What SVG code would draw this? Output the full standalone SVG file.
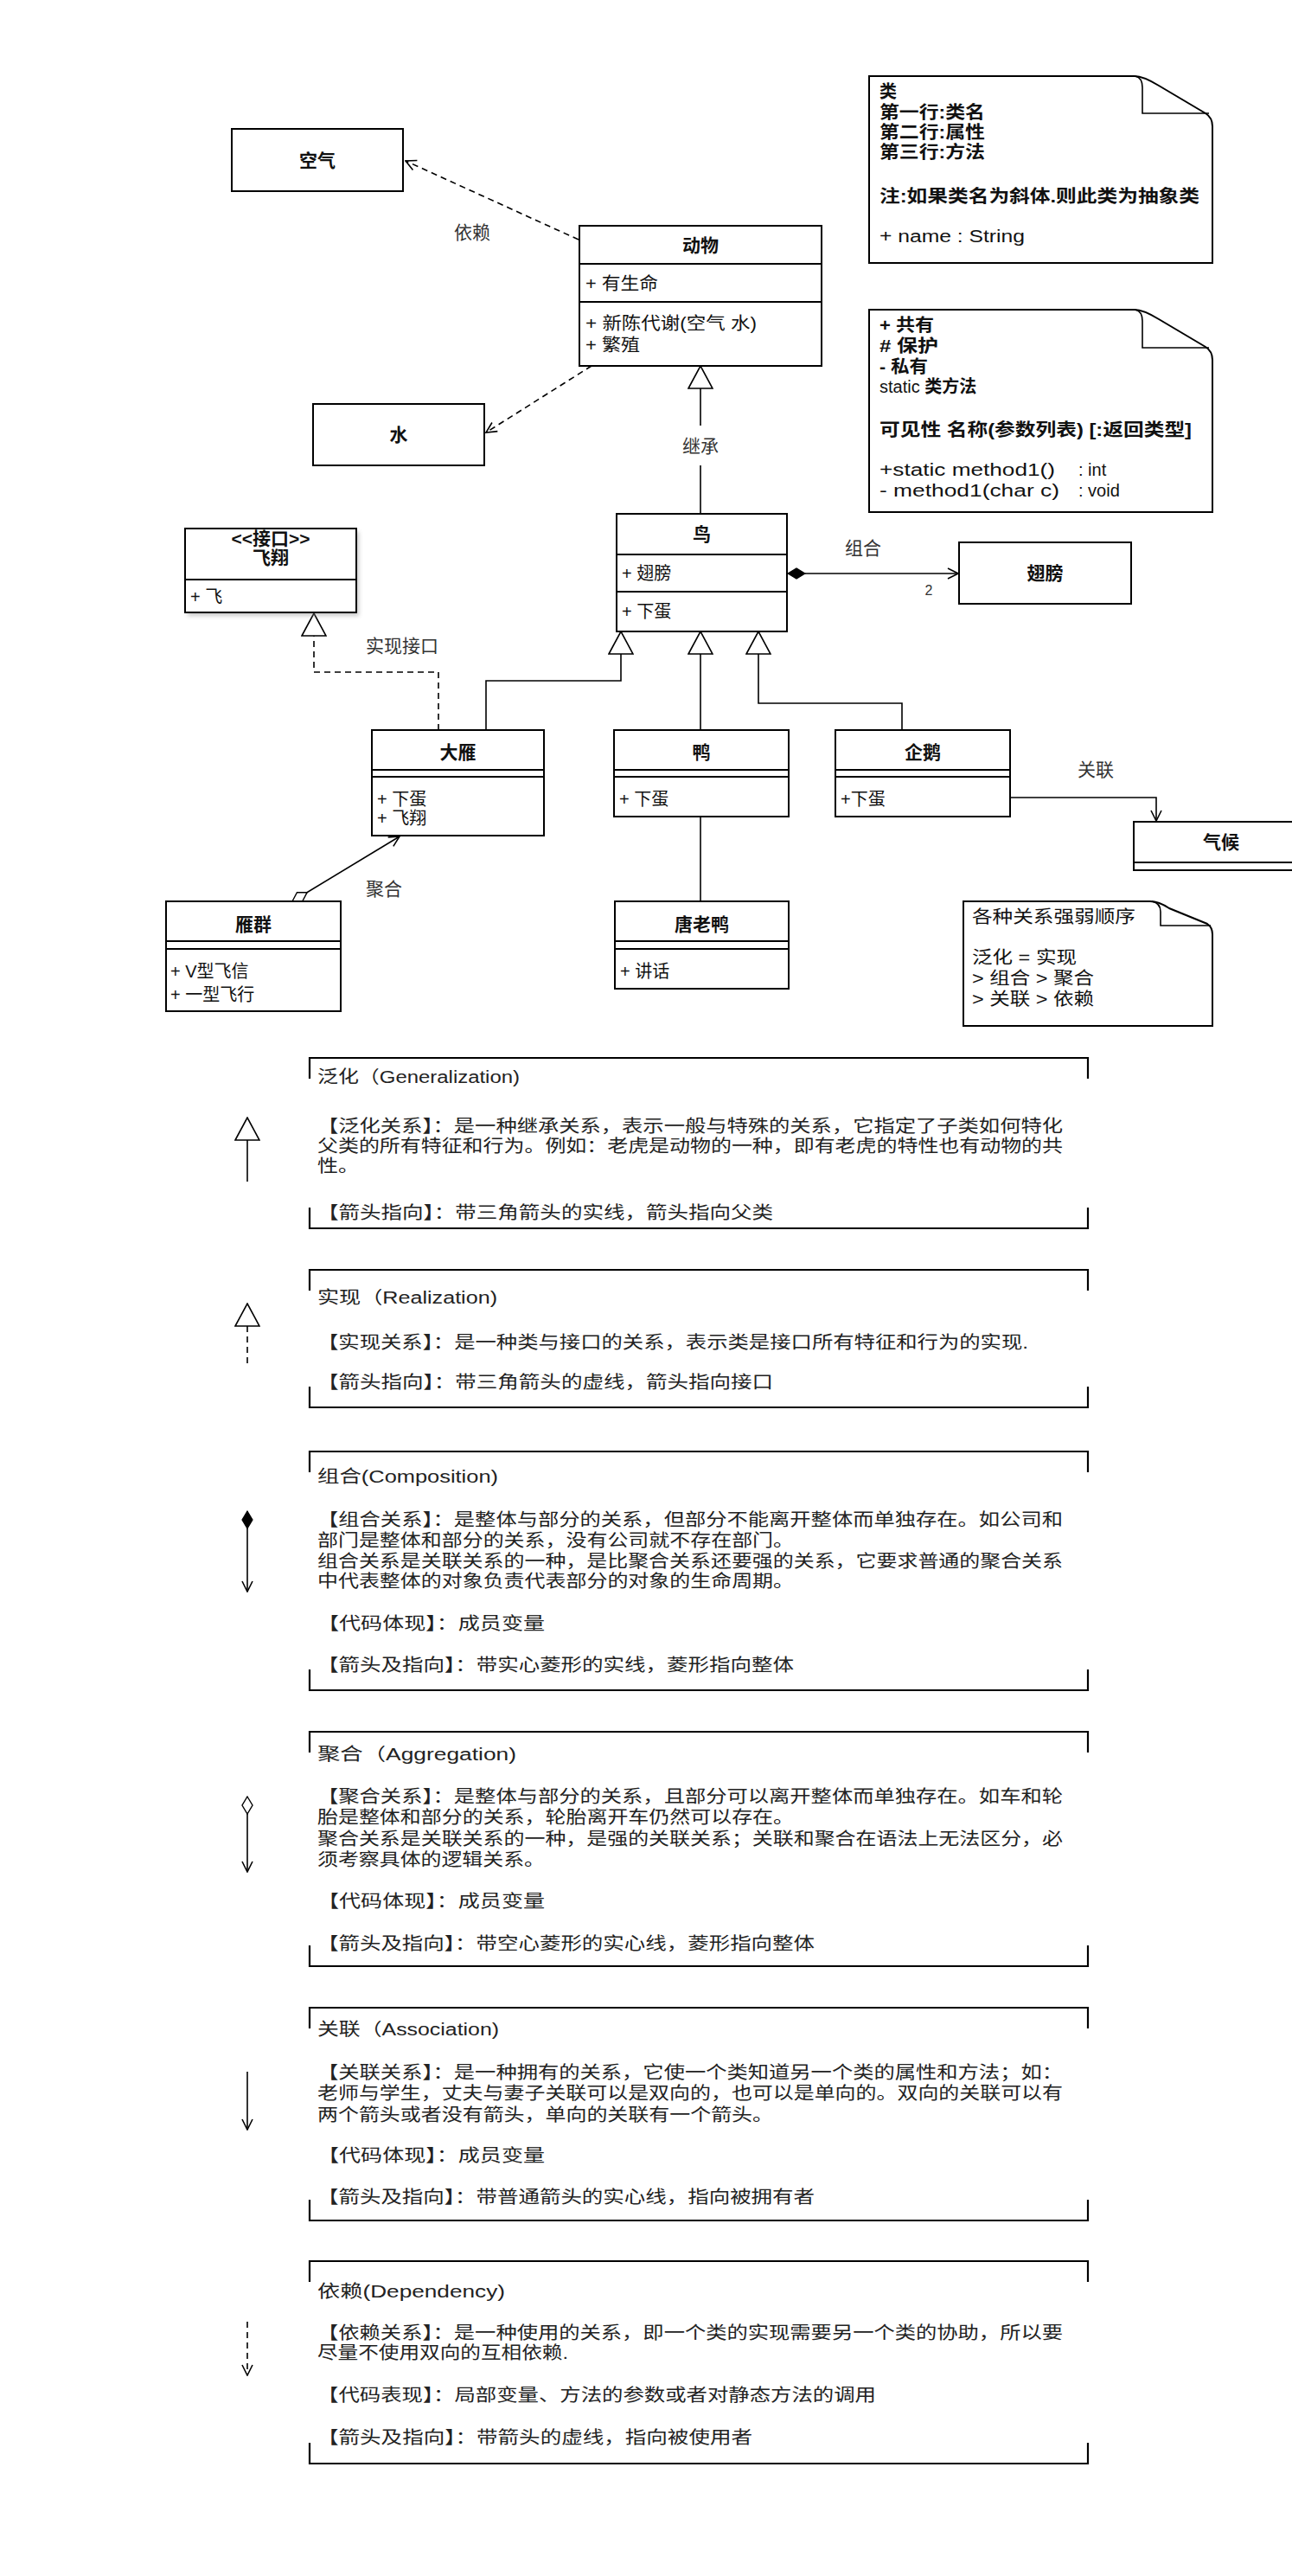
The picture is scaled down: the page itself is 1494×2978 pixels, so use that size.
<svg xmlns="http://www.w3.org/2000/svg" width="1494" height="2978" viewBox="0 0 1494 2978">
  <style>
    .bx { fill: #fff; stroke: #000; stroke-width: 2; }
    .dv { stroke: #000; stroke-width: 2; fill: none; }
    .ln { stroke: #000; stroke-width: 1.6; fill: none; }
    .ds { stroke-dasharray: 7 5; }
    .br { stroke: #000; stroke-width: 2.2; fill: none; }
    text { font-family: "Liberation Sans", "Noto Sans CJK SC", sans-serif; fill: #111; }
    .ti { font-size: 21px; font-weight: bold; text-anchor: middle; }
    .at { font-size: 20px; }
    .lb { font-size: 21px; text-anchor: middle; fill: #333; }
    .nt { font-size: 20px; }
    .nb { font-size: 20px; font-weight: bold; }
    .lg { font-size: 20px; fill: #222; }
  </style>
  <defs>
    <marker id="open" viewBox="0 0 14 14" refX="13" refY="7" markerWidth="14" markerHeight="14" markerUnits="userSpaceOnUse" orient="auto">
      <path d="M1,1 L13,7 L1,13" fill="none" stroke="#000" stroke-width="1.6"/>
    </marker>
    <marker id="tri" viewBox="0 0 28 30" refX="27" refY="15" markerWidth="28" markerHeight="30" markerUnits="userSpaceOnUse" orient="auto">
      <path d="M1,1 L27,15 L1,29 Z" fill="#fff" stroke="#000" stroke-width="1.6"/>
    </marker>
    <marker id="dmdF" viewBox="0 0 22 14" refX="1" refY="7" markerWidth="22" markerHeight="14" markerUnits="userSpaceOnUse" orient="auto">
      <path d="M1,7 L11,1 L21,7 L11,13 Z" fill="#000" stroke="#000" stroke-width="1.2"/>
    </marker>
    <marker id="dmdH" viewBox="0 0 22 14" refX="1" refY="7" markerWidth="22" markerHeight="14" markerUnits="userSpaceOnUse" orient="auto">
      <path d="M1,7 L11,1 L21,7 L11,13 Z" fill="#fff" stroke="#000" stroke-width="1.4"/>
    </marker>
    <filter id="soft" x="-10%" y="-10%" width="120%" height="130%">
      <feGaussianBlur stdDeviation="2.5"/>
    </filter>
  </defs>

  <rect width="1494" height="2978" fill="#fff"/>

  <!-- connectors -->
  <g id="connectors">
    <!-- dependencies of 动物 -->
    <path class="ln ds" d="M669,277 L469,186" marker-end="url(#open)"/>
    <path class="ln ds" d="M684,423 L562,500" marker-end="url(#open)"/>
    <!-- 鸟 inherits 动物 -->
    <path class="ln" d="M810,594 V538 M810,492 V423" marker-end="url(#tri)"/>
    <!-- 大雁 realizes 飞翔 -->
    <path class="ln ds" d="M507,844 V777 H363 V709" marker-end="url(#tri)"/>
    <!-- subclasses of 鸟 -->
    <path class="ln" d="M562,844 V787 H718 V730" marker-end="url(#tri)"/>
    <path class="ln" d="M810,844 V730" marker-end="url(#tri)"/>
    <path class="ln" d="M1043,844 V813 H877 V730" marker-end="url(#tri)"/>
    <!-- composition 鸟 - 翅膀 -->
    <path class="ln" d="M911,663 H1108" marker-start="url(#dmdF)" marker-end="url(#open)"/>
    <!-- aggregation 雁群 - 大雁 -->
    <path class="ln" d="M338,1042 L462,967" marker-start="url(#dmdH)" marker-end="url(#open)"/>
    <!-- 鸭 - 唐老鸭 -->
    <path class="ln" d="M810,944 V1042"/>
    <!-- association 企鹅 - 气候 -->
    <path class="ln" d="M1168,922 H1337 V949" marker-end="url(#open)"/>

    <text class="lb" x="546" y="276">依赖</text>
    <text class="lb" x="810" y="523">继承</text>
    <text class="lb" x="465" y="754">实现接口</text>
    <text class="lb" x="998" y="641">组合</text>
    <text class="lb" x="1074" y="688" style="font-size:16px">2</text>
    <text class="lb" x="444" y="1035">聚合</text>
    <text class="lb" x="1267" y="897">关联</text>
  </g>

  <!-- classes -->
  <g id="air">
    <rect class="bx" x="268" y="149" width="198" height="72"/>
    <text class="ti" x="367" y="193">空气</text>
  </g>
  <g id="water">
    <rect class="bx" x="362" y="467" width="198" height="71"/>
    <text class="ti" x="461" y="510">水</text>
  </g>
  <g id="animal">
    <rect class="bx" x="670" y="261" width="280" height="162"/>
    <path class="dv" d="M670,305 H950 M670,349 H950"/>
    <text class="ti" x="810" y="291">动物</text>
    <text class="at" x="677" y="335" textLength="84" lengthAdjust="spacingAndGlyphs">+ 有生命</text>
    <text class="at" x="677" y="381" textLength="198" lengthAdjust="spacingAndGlyphs">+ 新陈代谢(空气 水)</text>
    <text class="at" x="677" y="406" textLength="63" lengthAdjust="spacingAndGlyphs">+ 繁殖</text>
  </g>
  <g id="fly">
    <rect x="217" y="615" width="198" height="97" fill="#888" opacity="0.45" filter="url(#soft)"/>
    <rect class="bx" x="214" y="611" width="198" height="97"/>
    <path class="dv" d="M214,670 H412"/>
    <text class="ti" x="313" y="630">&lt;&lt;接口&gt;&gt;</text>
    <text class="ti" x="313" y="652">飞翔</text>
    <text class="at" x="220" y="697">+ 飞</text>
  </g>
  <g id="bird">
    <rect class="bx" x="713" y="594" width="197" height="136"/>
    <path class="dv" d="M713,641 H910 M713,684 H910"/>
    <text class="ti" x="811.5" y="625">鸟</text>
    <text class="at" x="719" y="670">+ 翅膀</text>
    <text class="at" x="719" y="714">+ 下蛋</text>
  </g>
  <g id="wing">
    <rect class="bx" x="1109" y="627" width="199" height="71"/>
    <text class="ti" x="1208.5" y="670">翅膀</text>
  </g>
  <g id="goose">
    <rect class="bx" x="430" y="844" width="199" height="122"/>
    <path class="dv" d="M430,890 H629 M430,898 H629"/>
    <text class="ti" x="529.5" y="877">大雁</text>
    <text class="at" x="436" y="931">+ 下蛋</text>
    <text class="at" x="436" y="953">+ 飞翔</text>
  </g>
  <g id="duck">
    <rect class="bx" x="710" y="844" width="202" height="100"/>
    <path class="dv" d="M710,890 H912 M710,898 H912"/>
    <text class="ti" x="811" y="877">鸭</text>
    <text class="at" x="716" y="931">+ 下蛋</text>
  </g>
  <g id="penguin">
    <rect class="bx" x="966" y="844" width="202" height="100"/>
    <path class="dv" d="M966,890 H1168 M966,898 H1168"/>
    <text class="ti" x="1067" y="877">企鹅</text>
    <text class="at" x="972" y="931">+下蛋</text>
  </g>
  <g id="climate">
    <rect class="bx" x="1311" y="950" width="202" height="56"/>
    <path class="dv" d="M1311,997 H1513"/>
    <text class="ti" x="1412" y="981">气候</text>
  </g>
  <g id="flock">
    <rect class="bx" x="192" y="1042" width="202" height="127"/>
    <path class="dv" d="M192,1088 H394 M192,1097 H394"/>
    <text class="ti" x="293" y="1076">雁群</text>
    <text class="at" x="197" y="1130">+ V型飞信</text>
    <text class="at" x="197" y="1157">+ 一型飞行</text>
  </g>
  <g id="donald">
    <rect class="bx" x="711" y="1042" width="201" height="101"/>
    <path class="dv" d="M711,1088 H912 M711,1097 H912"/>
    <text class="ti" x="811.5" y="1076">唐老鸭</text>
    <text class="at" x="717" y="1130">+ 讲话</text>
  </g>

  <!-- notes -->
  <g id="note-class">
    <path class="bx" d="M1005,88 H1312 Q1322,88 1340,99 L1394,131 Q1402,136 1402,146 V304 H1005 Z"/>
    <path class="ln" d="M1313,88 Q1321,90 1321,101 V131 H1398"/>
    <text class="nb" x="1017" y="113">类</text>
    <text class="nb" x="1017" y="137" textLength="122" lengthAdjust="spacingAndGlyphs">第一行:类名</text>
    <text class="nb" x="1017" y="160" textLength="122" lengthAdjust="spacingAndGlyphs">第二行:属性</text>
    <text class="nb" x="1017" y="183" textLength="122" lengthAdjust="spacingAndGlyphs">第三行:方法</text>
    <text class="nb" x="1017" y="234" textLength="370" lengthAdjust="spacingAndGlyphs">注:如果类名为斜体.则此类为抽象类</text>
    <text class="nt" x="1017" y="280" textLength="168" lengthAdjust="spacingAndGlyphs">+ name : String</text>
  </g>
  <g id="note-visibility">
    <path class="bx" d="M1005,358 H1312 Q1322,358 1340,369 L1394,401 Q1402,406 1402,416 V592 H1005 Z"/>
    <path class="ln" d="M1313,358 Q1321,360 1321,371 V402 H1398"/>
    <text class="nb" x="1017" y="383" textLength="63" lengthAdjust="spacingAndGlyphs">+ 共有</text>
    <text class="nb" x="1017" y="407" textLength="68" lengthAdjust="spacingAndGlyphs"># 保护</text>
    <text class="nb" x="1017" y="431" textLength="56" lengthAdjust="spacingAndGlyphs">- 私有</text>
    <text class="nt" x="1017" y="454">static <tspan font-weight="bold">类方法</tspan></text>
    <text class="nb" x="1017" y="504" textLength="361" lengthAdjust="spacingAndGlyphs">可见性 名称(参数列表) [:返回类型]</text>
    <text class="nt" x="1017" y="550" textLength="203" lengthAdjust="spacingAndGlyphs">+static method1()</text>
    <text class="nt" x="1247" y="550">: int</text>
    <text class="nt" x="1017" y="574" textLength="208" lengthAdjust="spacingAndGlyphs">- method1(char c)</text>
    <text class="nt" x="1247" y="574">: void</text>
  </g>
  <g id="note-order">
    <path class="bx" d="M1114,1042 H1330 Q1340,1042 1352,1050 L1396,1068 Q1402,1072 1402,1080 V1186 H1114 Z"/>
    <path class="ln" d="M1332,1042 Q1342,1044 1342,1054 V1070 H1400"/>
    <text class="nt" x="1124" y="1067" textLength="189" lengthAdjust="spacingAndGlyphs">各种关系强弱顺序</text>
    <text class="nt" x="1124" y="1114" textLength="121" lengthAdjust="spacingAndGlyphs">泛化 = 实现</text>
    <text class="nt" x="1124" y="1138" textLength="141" lengthAdjust="spacingAndGlyphs">&gt; 组合 &gt; 聚合</text>
    <text class="nt" x="1124" y="1162" textLength="141" lengthAdjust="spacingAndGlyphs">&gt; 关联 &gt; 依赖</text>
  </g>

  <!-- legend: relation types -->
  <g id="legend-generalization">
    <path class="ln" d="M286,1366 V1292" marker-end="url(#tri)"/>
    <path class="br" d="M358,1247 V1223 H1258 V1247 M358,1396 V1420 H1258 V1396"/>
    <text class="lg" x="367" y="1252" textLength="234" lengthAdjust="spacingAndGlyphs">泛化（Generalization)</text>
    <text class="lg" x="367" y="1309" textLength="862" lengthAdjust="spacingAndGlyphs">【泛化关系】：是一种继承关系，表示一般与特殊的关系，它指定了子类如何特化</text>
    <text class="lg" x="367" y="1332" textLength="862" lengthAdjust="spacingAndGlyphs">父类的所有特征和行为。例如：老虎是动物的一种，即有老虎的特性也有动物的共</text>
    <text class="lg" x="367" y="1355" textLength="48" lengthAdjust="spacingAndGlyphs">性。</text>
    <text class="lg" x="367" y="1409" textLength="527" lengthAdjust="spacingAndGlyphs">【箭头指向】：带三角箭头的实线，箭头指向父类</text>
  </g>
  <g id="legend-realization">
    <path class="ln ds" d="M286,1576 V1507" marker-end="url(#tri)"/>
    <path class="br" d="M358,1492 V1468 H1258 V1492 M358,1603 V1627 H1258 V1603"/>
    <text class="lg" x="367" y="1507" textLength="208" lengthAdjust="spacingAndGlyphs">实现（Realization)</text>
    <text class="lg" x="367" y="1559" textLength="822" lengthAdjust="spacingAndGlyphs">【实现关系】：是一种类与接口的关系，表示类是接口所有特征和行为的实现.</text>
    <text class="lg" x="367" y="1605" textLength="527" lengthAdjust="spacingAndGlyphs">【箭头指向】：带三角箭头的虚线，箭头指向接口</text>
  </g>
  <g id="legend-composition">
    <path class="ln" d="M286,1747 V1840" marker-start="url(#dmdF)" marker-end="url(#open)"/>
    <path class="br" d="M358,1702 V1678 H1258 V1702 M358,1930 V1954 H1258 V1930"/>
    <text class="lg" x="367" y="1714" textLength="209" lengthAdjust="spacingAndGlyphs">组合(Composition)</text>
    <text class="lg" x="367" y="1764" textLength="862" lengthAdjust="spacingAndGlyphs">【组合关系】：是整体与部分的关系，但部分不能离开整体而单独存在。如公司和</text>
    <text class="lg" x="367" y="1788" textLength="551" lengthAdjust="spacingAndGlyphs">部门是整体和部分的关系，没有公司就不存在部门。</text>
    <text class="lg" x="367" y="1812" textLength="862" lengthAdjust="spacingAndGlyphs">组合关系是关联关系的一种，是比聚合关系还要强的关系，它要求普通的聚合关系</text>
    <text class="lg" x="367" y="1835" textLength="551" lengthAdjust="spacingAndGlyphs">中代表整体的对象负责代表部分的对象的生命周期。</text>
    <text class="lg" x="367" y="1884" textLength="263" lengthAdjust="spacingAndGlyphs">【代码体现】：成员变量</text>
    <text class="lg" x="367" y="1932" textLength="551" lengthAdjust="spacingAndGlyphs">【箭头及指向】：带实心菱形的实线，菱形指向整体</text>
  </g>
  <g id="legend-aggregation">
    <path class="ln" d="M286,2077 V2164" marker-start="url(#dmdH)" marker-end="url(#open)"/>
    <path class="br" d="M358,2026 V2002 H1258 V2026 M358,2249 V2273 H1258 V2249"/>
    <text class="lg" x="367" y="2035" textLength="230" lengthAdjust="spacingAndGlyphs">聚合（Aggregation)</text>
    <text class="lg" x="367" y="2084" textLength="862" lengthAdjust="spacingAndGlyphs">【聚合关系】：是整体与部分的关系，且部分可以离开整体而单独存在。如车和轮</text>
    <text class="lg" x="367" y="2108" textLength="551" lengthAdjust="spacingAndGlyphs">胎是整体和部分的关系，轮胎离开车仍然可以存在。</text>
    <text class="lg" x="367" y="2133" textLength="862" lengthAdjust="spacingAndGlyphs">聚合关系是关联关系的一种，是强的关联关系；关联和聚合在语法上无法区分，必</text>
    <text class="lg" x="367" y="2157" textLength="263" lengthAdjust="spacingAndGlyphs">须考察具体的逻辑关系。</text>
    <text class="lg" x="367" y="2205" textLength="263" lengthAdjust="spacingAndGlyphs">【代码体现】：成员变量</text>
    <text class="lg" x="367" y="2254" textLength="575" lengthAdjust="spacingAndGlyphs">【箭头及指向】：带空心菱形的实心线，菱形指向整体</text>
  </g>
  <g id="legend-association">
    <path class="ln" d="M286,2395 V2462" marker-end="url(#open)"/>
    <path class="br" d="M358,2345 V2321 H1258 V2345 M358,2543 V2567 H1258 V2543"/>
    <text class="lg" x="367" y="2353" textLength="210" lengthAdjust="spacingAndGlyphs">关联（Association)</text>
    <text class="lg" x="367" y="2403" textLength="862" lengthAdjust="spacingAndGlyphs">【关联关系】：是一种拥有的关系，它使一个类知道另一个类的属性和方法；如：</text>
    <text class="lg" x="367" y="2427" textLength="862" lengthAdjust="spacingAndGlyphs">老师与学生，丈夫与妻子关联可以是双向的，也可以是单向的。双向的关联可以有</text>
    <text class="lg" x="367" y="2452" textLength="527" lengthAdjust="spacingAndGlyphs">两个箭头或者没有箭头，单向的关联有一个箭头。</text>
    <text class="lg" x="367" y="2499" textLength="263" lengthAdjust="spacingAndGlyphs">【代码体现】：成员变量</text>
    <text class="lg" x="367" y="2547" textLength="575" lengthAdjust="spacingAndGlyphs">【箭头及指向】：带普通箭头的实心线，指向被拥有者</text>
  </g>
  <g id="legend-dependency">
    <path class="ln ds" d="M286,2684 V2746" marker-end="url(#open)"/>
    <path class="br" d="M358,2638 V2614 H1258 V2638 M358,2824 V2848 H1258 V2824"/>
    <text class="lg" x="367" y="2656" textLength="217" lengthAdjust="spacingAndGlyphs">依赖(Dependency)</text>
    <text class="lg" x="367" y="2704" textLength="862" lengthAdjust="spacingAndGlyphs">【依赖关系】：是一种使用的关系，即一个类的实现需要另一个类的协助，所以要</text>
    <text class="lg" x="367" y="2727" textLength="290" lengthAdjust="spacingAndGlyphs">尽量不使用双向的互相依赖.</text>
    <text class="lg" x="367" y="2776" textLength="646" lengthAdjust="spacingAndGlyphs">【代码表现】：局部变量、方法的参数或者对静态方法的调用</text>
    <text class="lg" x="367" y="2825" textLength="503" lengthAdjust="spacingAndGlyphs">【箭头及指向】：带箭头的虚线，指向被使用者</text>
  </g>
</svg>
